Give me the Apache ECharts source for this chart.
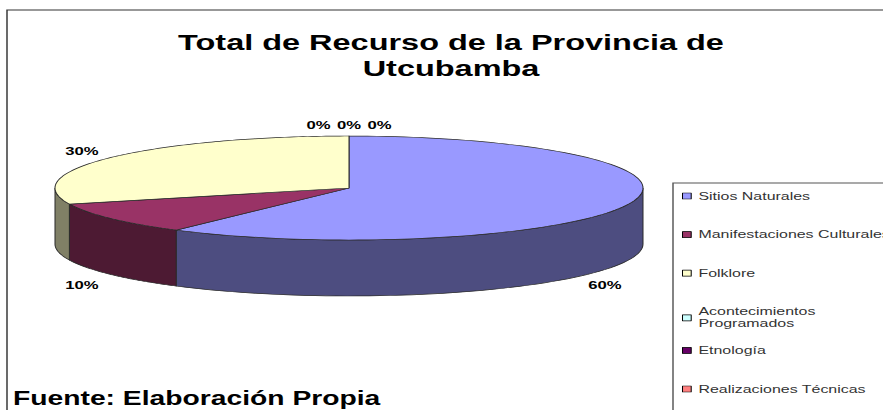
<!DOCTYPE html>
<html>
<head>
<meta charset="utf-8">
<script src="https://cdn.jsdelivr.net/npm/echarts@6/dist/echarts.min.js"></script>
<style>
  html, body { margin: 0; padding: 0; background: #fff; overflow: hidden; }
  #wrap { width: 883px; height: 410px; overflow: hidden; }
  #c { width: 609px; height: 410px; transform: scaleX(1.45); transform-origin: 0 0; }
</style>
</head>
<body>
<div id="wrap"><div id="c"></div></div>
<script>
// ---- data ----
const CATEGORIES = [
  'Sitios Naturales',
  'Manifestaciones Culturales',
  'Folklore',
  'Acontecimientos Programados',
  'Etnología',
  'Realizaciones Técnicas'
];
const VALUES = [60, 10, 30, 0, 0, 0];
const COLORS = ['#9999FF', '#993366', '#FFFFCC', '#CCFFFF', '#660066', '#FF8080'];
const TITLE = 'Total de Recurso de la Provincia de\nUtcubamba';
const SOURCE = 'Fuente: Elaboración Propia';

// ---- layout (pre-stretch coordinates; page is stretched horizontally by S) ----
const S = 1.45;
const CX = 349 / S, CY = 188, R = 294 / S, RY = 52, DEPTH = 56;
const FLAT = RY / R;
const TOTAL = VALUES.reduce((a, b) => a + b, 0);
const FONT = '"Liberation Sans", Arial, sans-serif';

function shade(hex, f) {
  const n = parseInt(hex.slice(1), 16);
  const r = Math.round(((n >> 16) & 255) * f), g = Math.round(((n >> 8) & 255) * f), b = Math.round((n & 255) * f);
  return 'rgb(' + r + ',' + g + ',' + b + ')';
}

const zeroIndex = [];
VALUES.forEach((v, i) => { if (v === 0) zeroIndex.push(i); });

function renderItem(params, api) {
  const i = params.dataIndex;
  const v = api.value(1);
  let start = 0;
  for (let k = 0; k < i; k++) start += VALUES[k];
  const end = start + v;
  const c = api.coord([0, 0]);
  const cx = c[0], cy = c[1];
  const pt = (t) => { const p = api.coord([1, t]); return [p[0], cy + (p[1] - cy) * FLAT]; };
  const children = [];
  const color = COLORS[i];
  const stroke = '#2a2a2a';
  if (v > 0) {
    // side wall (front half only: values between TOTAL/4 and 3*TOTAL/4)
    const a = Math.max(start, TOTAL / 4), b = Math.min(end, TOTAL * 3 / 4);
    if (b > a) {
      const N = 60, top = [], bot = [];
      for (let s = 0; s <= N; s++) {
        const p = pt(a + (b - a) * s / N);
        top.push(p); bot.push([p[0], p[1] + DEPTH]);
      }
      children.push({
        type: 'polygon', shape: { points: top.concat(bot.reverse()) },
        style: { fill: shade(color, 0.5), stroke: stroke, lineWidth: 0.7 }
      });
    }
    // top face
    const N = 120, pts = [[cx, cy]];
    for (let s = 0; s <= N; s++) pts.push(pt(start + v * s / N));
    children.push({
      type: 'polygon', shape: { points: pts },
      style: { fill: color, stroke: stroke, lineWidth: 0.7 }
    });
  }
  // data label
  const mid = start + v / 2;
  const p = api.coord([1, mid]);
  const cosT = (p[0] - cx) / R, sinT = -(p[1] - cy) / R;
  let lx, ly;
  if (v === 0) {
    const j = zeroIndex.indexOf(i);
    lx = cx + (j - (zeroIndex.length - 1) / 2) * 30.5 / S;
    ly = cy - 63;
  } else {
    lx = Math.min(Math.max(cx + cosT * R * 1.2, cx - R + 27 / S), cx + R - 38 / S);
    ly = sinT > 0 ? cy - 63 * sinT : cy + RY + DEPTH - 11;
  }
  children.push({
    type: 'text', x: lx, y: ly,
    style: {
      text: Math.round(v / TOTAL * 100) + '%', fill: '#000',
      font: 'bold 11.5px ' + FONT, align: 'center', verticalAlign: 'middle'
    }
  });
  return { type: 'group', children: children };
}

const legendBase = {
  orient: 'vertical', left: 682 / S, padding: 0,
  itemWidth: 6, itemHeight: 6, itemGap: 26.6, icon: 'rect',
  itemStyle: { borderColor: '#000', borderWidth: 0.7 },
  formatter: (name) => name.replace('Acontecimientos ', 'Acontecimientos\n'),
  textStyle: { fontFamily: FONT, fontSize: 11, color: '#333', lineHeight: 12 }
};

const chart = echarts.init(document.getElementById('c'), null, { renderer: 'svg' });
chart.setOption({
  animation: false,
  color: COLORS,
  title: [
    {
      text: TITLE, left: 451 / S, top: 29, padding: 0, textAlign: 'center',
      textStyle: { fontFamily: FONT, fontSize: 22.4, fontWeight: 'bold', color: '#000', lineHeight: 26 }
    },
    {
      text: SOURCE, left: 13 / S, top: 388, padding: 0,
      textStyle: { fontFamily: FONT, fontSize: 19.5, fontWeight: 'bold', color: '#000', lineHeight: 20 }
    }
  ],
  legend: [
    Object.assign({}, legendBase, { top: 190, data: CATEGORIES.slice(0, 4) }),
    Object.assign({}, legendBase, { top: 344.4, data: CATEGORIES.slice(4) })
  ],
  graphic: [
    { type: 'polyline', shape: { points: [[7 / S, 420], [7 / S, 10], [700, 10]] }, style: { stroke: '#333', lineWidth: 1, fill: null }, silent: true },
    { type: 'rect', shape: { x: 673 / S, y: 183, width: 400, height: 400 }, style: { stroke: '#555', lineWidth: 1, fill: null }, silent: true }
  ],
  polar: { center: [CX, CY], radius: R },
  angleAxis: { type: 'value', min: 0, max: TOTAL, startAngle: 90, clockwise: true, show: false },
  radiusAxis: { type: 'value', min: 0, max: 1, show: false },
  series: [
    {
      type: 'custom', name: 'Recursos', coordinateSystem: 'polar', clip: false,
      renderItem: renderItem, silent: true,
      data: VALUES.map((v, i) => ({ name: CATEGORIES[i], value: [1, v] }))
    },
    {
      type: 'pie', name: 'Leyenda', radius: [0, 0], center: [-100, -100], silent: true,
      label: { show: false }, labelLine: { show: false },
      data: CATEGORIES.map((c, i) => ({ name: c, value: VALUES[i], itemStyle: { color: COLORS[i] } }))
    }
  ]
});
</script>
</body>
</html>
